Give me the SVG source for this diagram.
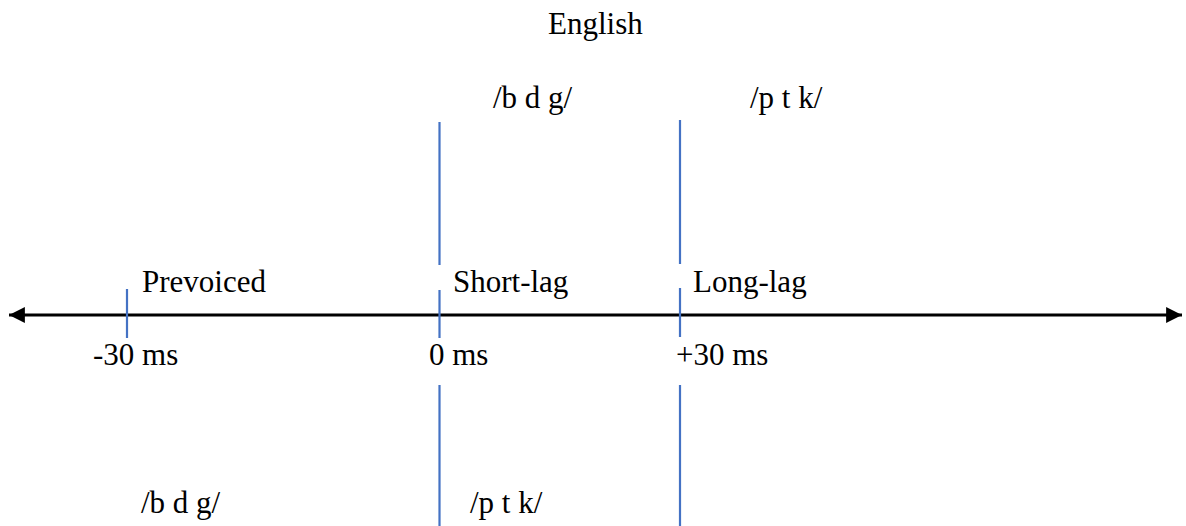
<svg xmlns="http://www.w3.org/2000/svg" width="1186" height="526" viewBox="0 0 1186 526">
<style>
.t{font-family:"Liberation Serif","Times New Roman",serif;font-size:31px;fill:#000}
.tick{stroke:#4472C4;stroke-width:2.2;fill:none}
.axis{stroke:#000;stroke-width:3;fill:none}
</style>
<defs>
<marker id="ah" viewBox="0 0 10 10" refX="10" refY="5" markerWidth="5.3" markerHeight="5.3" markerUnits="strokeWidth" orient="auto-start-reverse">
<path d="M0,0 L10,5 L0,10 z" fill="#000"/>
</marker>
</defs>
<rect width="1186" height="526" fill="#fff"/>
<g id="connectors">
<line class="axis" x1="9" y1="315" x2="1182" y2="315" marker-start="url(#ah)" marker-end="url(#ah)"/>
<line class="tick" x1="127" y1="289" x2="127" y2="338"/>
<line class="tick" x1="439.5" y1="122" x2="439.5" y2="265"/>
<line class="tick" x1="439.5" y1="290" x2="439.5" y2="338"/>
<line class="tick" x1="439.5" y1="385" x2="439.5" y2="526"/>
<line class="tick" x1="680" y1="120" x2="680" y2="264"/>
<line class="tick" x1="680" y1="288" x2="680" y2="337"/>
<line class="tick" x1="680" y1="385" x2="680" y2="526"/>
</g>
<g id="title"><text class="t" x="548" y="34">English</text></g>
<g id="en-bdg"><text class="t" x="493" y="108">/b d g/</text></g>
<g id="en-ptk"><text class="t" x="750" y="108">/p t k/</text></g>
<g id="prevoiced"><text class="t" x="142" y="292">Prevoiced</text></g>
<g id="shortlag"><text class="t" x="453" y="292">Short-lag</text></g>
<g id="longlag"><text class="t" x="693" y="292">Long-lag</text></g>
<g id="m30"><text class="t" x="93" y="365">-30 ms</text></g>
<g id="z0"><text class="t" x="429" y="365">0 ms</text></g>
<g id="p30"><text class="t" x="676" y="365">+30 ms</text></g>
<g id="bot-bdg"><text class="t" x="141" y="513">/b d g/</text></g>
<g id="bot-ptk"><text class="t" x="470" y="513">/p t k/</text></g>
</svg>
